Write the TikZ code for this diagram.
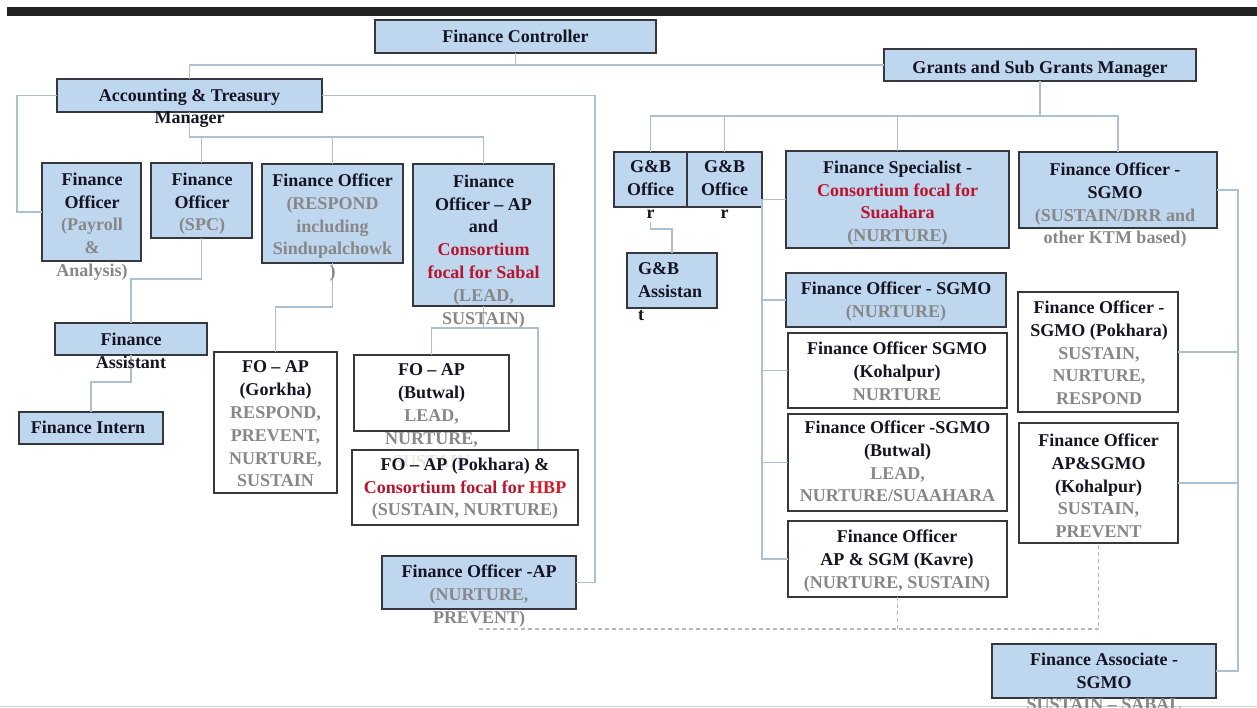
\documentclass[tikz,border=0pt]{standalone}
\usepackage{fontspec}
\setmainfont{Liberation Serif}
\usetikzlibrary{calc}
\definecolor{boxblue}{RGB}{190,214,238}
\definecolor{edge}{RGB}{55,55,62}
\definecolor{lnk}{RGB}{172,192,210}
\definecolor{ink}{RGB}{20,20,35}
\definecolor{gtxt}{RGB}{135,135,135}
\definecolor{rtxt}{RGB}{185,20,45}
\definecolor{rtxtb}{RGB}{215,25,35}
\definecolor{topbar}{RGB}{34,34,34}
\newcommand\gtx[1]{\textcolor{gtxt}{#1}}
\newcommand\rtx[1]{\textcolor{rtxt}{#1}}
\begin{document}
\begin{tikzpicture}[x=1pt,y=-1pt,
  bx/.style={draw=edge,line width=1.3pt,fill=boxblue,inner sep=0pt,outer sep=0pt},
  wbx/.style={bx,fill=white},
  tx/.style={font=\bfseries\fontsize{18}{22.8}\selectfont,text=ink,align=center,inner sep=0pt,anchor=north},
  conn/.style={draw=lnk,line width=1.2pt},
  dconn/.style={draw=gray!55,line width=1.1pt,dash pattern=on 4pt off 3pt}]
\useasboundingbox (0,0) rectangle (1257,708);
\clip (0,0) rectangle (1257,708);
\fill[topbar] (7,7) rectangle (1257,16);
\draw[gray!35,line width=1.5pt] (0,706.5) -- (1257,706.5);

% ---------- boxes ----------
\node[bx,minimum width=281,minimum height=33] (fc) at (515.5,36.5) {};
\node[bx,minimum width=312,minimum height=32] (gm) at (1040,65) {};
\node[bx,minimum width=265,minimum height=33] (atm) at (189.5,95.5) {};
\node[bx,minimum width=99,minimum height=98] (fpay) at (91.5,212) {};
\node[bx,minimum width=101,minimum height=75] (fspc) at (201.5,200.5) {};
\node[bx,minimum width=141,minimum height=99] (fres) at (332.5,213.5) {};
\node[bx,minimum width=141,minimum height=142] (fsab) at (483.5,235) {};
\node[bx,minimum width=152,minimum height=32] (fasst) at (131,339) {};
\node[bx,minimum width=144,minimum height=32] (fint) at (91,428) {};
\node[wbx,minimum width=123,minimum height=141] (gork) at (275.5,422.5) {};
\node[wbx,minimum width=155,minimum height=76] (butw) at (431.5,393) {};
\node[inner sep=0pt,outer sep=0pt,minimum width=226,minimum height=75] (pokh) at (465,487.5) {};
\node[bx,minimum width=194,minimum height=53] (foap) at (479,582.5) {};
\node[bx,minimum width=73,minimum height=55] (gb1) at (650.5,179.5) {};
\node[bx,minimum width=75,minimum height=55] (gb2) at (724.5,179.5) {};
\node[bx,minimum width=90,minimum height=55] (gba) at (672,280.5) {};
\node[bx,minimum width=223,minimum height=97] (fsp) at (897.5,199.5) {};
\node[bx,minimum width=198,minimum height=76] (fsgmo) at (1118,190) {};
\node[bx,minimum width=220,minimum height=54] (fsn) at (896,300) {};
\node[wbx,minimum width=219,minimum height=75] (fkoh) at (897.5,370.5) {};
\node[wbx,minimum width=219,minimum height=97] (fbut) at (897.5,462.5) {};
\node[wbx,minimum width=219,minimum height=76] (fkav) at (897.5,559) {};
\node[wbx,minimum width=160,minimum height=120] (fpok) at (1098,352) {};
\node[wbx,minimum width=159,minimum height=120] (fkap) at (1098.5,483) {};
\node[bx,minimum width=224,minimum height=54] (fass) at (1104,671) {};

% ---------- helper coordinates ----------
\coordinate (busA) at (0,137);
\coordinate (busB) at (0,279);
\coordinate (busC) at (0,382);
\coordinate (busD) at (0,307);
\coordinate (busE) at (0,328);
\coordinate (busF) at (0,116);
\coordinate (busG) at (0,229);
\coordinate (dA) at (0,629);
\coordinate (xL) at (17,0);
\coordinate (xR) at (595,0);
\coordinate (xP) at (538,0);
\coordinate (xS) at (762,0);
\coordinate (xT) at (1238,0);

% ---------- connectors ----------
\draw[conn] (fc.south) |- (gm.west);
\draw[conn] (fc.south |- gm.west) -| (atm.north);
\draw[conn] (atm.south) -- (atm.south |- busA) -| (fspc.north);
\draw[conn] (atm.south |- busA) -| (fres.north);
\draw[conn] (atm.south |- busA) -| (fsab.north);
\draw[conn] (atm.west) -| (xL |- fpay.west) -- (fpay.west);
\draw[conn] (atm.east) -| (xR |- foap.east) -- (foap.east);
\draw[conn] (fspc.south) -- (fspc.south |- busB) -| (fasst.north);
\draw[conn] (fasst.south) -- (fasst.south |- busC) -| (fint.north);
\draw[conn] (fres.south) -- (fres.south |- busD) -| (gork.north);
\draw[conn] (fsab.south) -- (fsab.south |- busE) -| (butw.north);
\draw[conn] (fsab.south |- busE) -| (xP |- pokh.north);
\draw[conn] (gm.south) -- (gm.south |- busF);
\draw[conn] (gb1.north) -- (gb1.north |- busF) -- (fsgmo.north |- busF) -- (fsgmo.north);
\draw[conn] (gb2.north) -- (gb2.north |- busF);
\draw[conn] (fsp.north) -- (fsp.north |- busF);
\draw[conn] ($(gb1.south)+(0,15)$) -- (gb1.south |- busG) -| (gba.north);
\draw[conn] (fsp.west) -- (xS |- fsp.west) -- (xS |- fkav.west) -- (fkav.west);
\draw[conn] (xS |- fsn.west) -- (fsn.west);
\draw[conn] (xS |- fkoh.west) -- (fkoh.west);
\draw[conn] (xS |- fbut.west) -- (fbut.west);
\draw[conn] (fsgmo.east) -- (xT |- fsgmo.east) -- (xT |- fass.east) -- (fass.east);
\draw[conn] (xT |- fpok.east) -- (fpok.east);
\draw[conn] (xT |- fkap.east) -- (fkap.east);
\draw[dconn] (foap.south |- dA) -| (fkap.south);
\draw[dconn] (fkav.south) -- (fkav.south |- dA);

% ---------- texts ----------
\node[tx] (fc-t) at (515.5,29.7) {Finance Controller};
\node[tx] (gm-t) at (1040,60.7) {Grants and Sub Grants Manager};
\node[tx,font=\bfseries\fontsize{18}{22}\selectfont] (atm-t) at (189.5,88.7) {Accounting \& Treasury\\Manager};
\node[tx] (fpay-t) at (92,172.7) {Finance\\Officer\\\gtx{(Payroll}\\\gtx{\&}\\\gtx{Analysis)}};
\node[tx] (fspc-t) at (202,172.7) {Finance\\Officer\\\gtx{(SPC)}};
\node[tx] (fres-t) at (332.5,173.7) {Finance Officer\\\gtx{(RESPOND}\\\gtx{including}\\\gtx{Sindupalchowk}\\\gtx{)}};
\node[tx] (fsab-t) at (483.5,174.7) {Finance\\Officer -- AP\\and\\\rtx{Consortium}\\\rtx{focal for Sabal}\\\gtx{(LEAD,}\\\gtx{SUSTAIN)}};
\node[tx] (fasst-t) at (131,332.7) {Finance\\Assistant};
\node[tx] (fint-t) at (88,420.7) {Finance Intern};
\node[tx] (gork-t) at (275.5,360.7) {FO -- AP\\(Gorkha)\\\gtx{RESPOND,}\\\gtx{PREVENT,}\\\gtx{NURTURE,}\\\gtx{SUSTAIN}};
\node[tx] (butw-t) at (431.5,363.7) {FO -- AP\\(Butwal)\\\gtx{LEAD,}\\\gtx{NURTURE,}\\\gtx{SUSTAIN}};
\node[tx] (foap-t) at (479,564.7) {Finance Officer -AP\\\gtx{(NURTURE,}\\\gtx{PREVENT)}};
\node[tx] (gb1-t) at (650.5,160.7) {G\&B\\Office\\r};
\node[tx] (gb2-t) at (724.5,160.7) {G\&B\\Office\\r};
\node[tx,align=left,anchor=north west] (gba-t) at (638,262.7) {G\&B\\Assistan\\t};
\node[tx] (fsp-t) at (897.5,160.7) {Finance Specialist -\\\rtx{Consortium focal for}\\\rtx{Suaahara}\\\gtx{(NURTURE)}};
\node[tx] (fsgmo-t) at (1115,162.7) {Finance Officer -\\SGMO\\\gtx{(SUSTAIN/DRR and}\\\gtx{other KTM based)}};
\node[tx] (fsn-t) at (896,281.7) {Finance Officer - SGMO\\\gtx{(NURTURE)}};
\node[tx] (fkoh-t) at (897,341.7) {Finance Officer SGMO\\(Kohalpur)\\\gtx{NURTURE}};
\node[tx] (fbut-t) at (897.5,420.7) {Finance Officer -SGMO\\(Butwal)\\\gtx{LEAD,}\\\gtx{NURTURE/SUAAHARA}};
\node[tx] (fkav-t) at (897,529.7) {Finance Officer\\AP \& SGM (Kavre)\\\gtx{(NURTURE, SUSTAIN)}};
\node[tx] (fpok-t) at (1099,300.7) {Finance Officer -\\SGMO (Pokhara)\\\gtx{SUSTAIN,}\\\gtx{NURTURE,}\\\gtx{RESPOND}};
\node[tx] (fkap-t) at (1098.5,433.7) {Finance Officer\\AP\&SGMO\\(Kohalpur)\\\gtx{SUSTAIN,}\\\gtx{PREVENT}};
\node[tx] (fass-t) at (1104,652.7) {Finance Associate -\\SGMO\\\gtx{SUSTAIN -- SABAL}};

% ---------- overlapping Pokhara box ----------
\node[bx,fill=white,fill opacity=0.8,minimum width=226,minimum height=75] (pokh-box) at (pokh.center) {};
\node[tx] (pokh-t) at (465,457.7) {FO -- AP (Pokhara) \&\\\rtx{Consortium focal for} \textcolor{rtxtb}{HBP}\\\gtx{(SUSTAIN, NURTURE)}};
\end{tikzpicture}
\end{document}
